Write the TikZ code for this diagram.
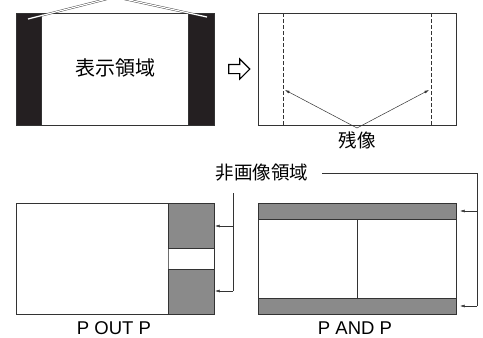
\documentclass[tikz,border=0pt]{standalone}
\usepackage{fontspec}
\setmainfont{Liberation Sans}
\newfontfamily\jpfont{Noto Sans CJK JP}
\definecolor{framegray}{rgb}{0.2,0.2,0.2}
\definecolor{bandgray}{rgb}{0.54,0.54,0.54}
\definecolor{inkblack}{rgb}{0.14,0.12,0.13}
\usetikzlibrary{shapes,arrows.meta,positioning,calc}

\begin{document}
\begin{tikzpicture}[x=1pt,y=-1pt,
    panel/.style={draw=framegray,line width=0.9pt,inner sep=0pt,anchor=north west},
    ptr/.style={-{Latex[length=4.5pt,width=2.8pt]},line width=0.5pt,framegray},
    jp/.style={font=\jpfont\fontsize{#1}{#1}\selectfont},
    tag/.style={font=\fontsize{18.5}{18.5}\selectfont,anchor=base,inner sep=0pt,text depth=0pt}]
    \useasboundingbox (0,0) rectangle (483,338);

    % Display area with black side bars
    \node[panel,minimum width=25pt,minimum height=112pt,fill=inkblack] (barl) at (16,13) {};
    \node[panel,minimum width=26pt,minimum height=112pt,fill=inkblack] (barr) at (188,13) {};
    \node[panel,minimum width=198pt,minimum height=112pt] (disp) at (16,13) {};
    \node[jp=20] (hyoji) at (115,68) {表示領域};
    \coordinate (apex) at (115,-3);
    \coordinate (capl) at (28,19);
    \coordinate (capr) at (207,17);
    \draw[framegray,line width=0.4pt,double=white,double distance=1.2pt] (capl) -- (apex) -- (capr);

    % Change arrow
    \node[single arrow,draw=black,line width=1.1pt,inner sep=4pt,minimum height=21pt,
        minimum width=19pt,single arrow head extend=5.5pt] (next) at (237,69) {};

    % Afterimage
    \node[panel,minimum width=198pt,minimum height=112pt] (after) at (258,13) {};
    \foreach \dx in {25,173} {
        \draw[framegray,line width=0.5pt,dash pattern=on 4pt off 2pt]
            ($(after.north west)+(\dx,0)$) -- ($(after.south west)+(\dx,0)$);
    }
    \node[jp=18.5] (zanzo) at (357,140) {残像};
    \coordinate (zz) at (357,128);
    \coordinate (ghostl) at (285,90);
    \coordinate (ghostr) at (429,90);
    \draw[ptr] (zz) -- (ghostl);
    \draw[ptr] (zz) -- (ghostr);

    % P OUT P
    \node[panel,fill=bandgray,minimum width=46pt,minimum height=45pt] (popa) at (168,203) {};
    \node[panel,fill=bandgray,minimum width=46pt,minimum height=45pt] (popb) at (168,269) {};
    \draw[bandgray!80!black,line width=0.9pt] (popa.south west) -- (popb.north west);
    \node[panel,minimum width=198pt,minimum height=111pt] (pop) at (16,203) {};
    \node[tag] (poplbl) at (114,334) {P OUT P};

    % P AND P
    \node[panel,fill=bandgray,minimum width=198pt,minimum height=16pt] (papa) at (258,203) {};
    \node[panel,fill=bandgray,minimum width=198pt,minimum height=16pt] (papb) at (258,298) {};
    \draw[framegray,line width=0.9pt] (papa.south) -- (papb.north);
    \node[panel,minimum width=198pt,minimum height=111pt] (pap) at (258,203) {};
    \node[tag] (paplbl) at (355,334) {P AND P};

    % Non-picture area
    \node[jp=18.5] (hihi) at (262,173) {非画像領域};
    \coordinate (lead) at (322,173);
    \coordinate (corner) at (477,173);
    \coordinate (cornerb) at (477,306);
    \draw[line width=0.5pt,framegray] (lead) -- (corner) -- (cornerb);
    \draw[ptr] (477,211) -- (460,211);
    \draw[ptr] (cornerb) -- (460,306);
    \coordinate (brtop) at (233,193);
    \coordinate (brbot) at (233,291);
    \draw[line width=0.5pt,framegray] (brtop) -- (brbot);
    \draw[ptr] (233,226) -- (215,226);
    \draw[ptr] (brbot) -- (215,291);
\end{tikzpicture}
\end{document}
